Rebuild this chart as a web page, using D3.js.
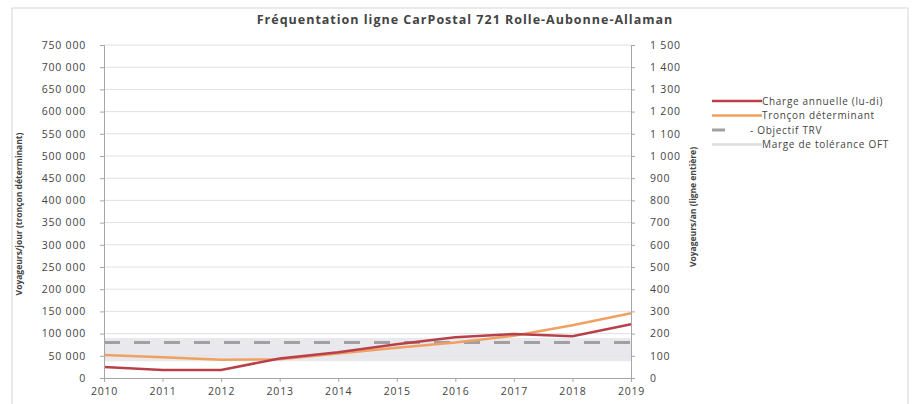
<!DOCTYPE html>
<html>
<head>
<meta charset="utf-8">
<script src="https://cdn.jsdelivr.net/npm/d3@7"></script>
<style>
  body { margin: 0; background: #fff; }
  text { font-family: "Open Sans", sans-serif; fill: #444; }
</style>
</head>
<body>
<div id="chart"></div>
<script>
var years = [2010, 2011, 2012, 2013, 2014, 2015, 2016, 2017, 2018, 2019];
var charge = [25000, 18000, 18000, 44000, 58000, 76000, 92000, 99000, 94000, 121000];
var troncon = [52000, 47000, 41000, 42000, 55000, 68000, 80000, 95000, 119000, 146000];
var objectif = [80000, 80000, 80000, 80000, 80000, 80000, 80000, 80000, 80000, 80000];
var margeBas = [38000, 38000, 38000, 38000, 38000, 38000, 38000, 38000, 38000, 38000];
var margeHaut = [90000, 90000, 90000, 90000, 90000, 90000, 90000, 90000, 90000, 90000];
var leftTicks = d3.range(0, 750001, 50000);
var rightTicks = d3.range(0, 1501, 100);
var legendLabels = ["Charge annuelle (lu-di)", "Tronçon déterminant", "Objectif TRV", "Marge de tolérance OFT"];

var width = 914, height = 404;
var margin = {left: 104, right: 283, top: 45, bottom: 26};

var svg = d3.select("#chart")
	.append("svg")
	.attr("width", width)
	.attr("height", height)
	;

// scanned frame
svg.append("rect")
	.attr("x", 12).attr("y", 8)
	.attr("width", 896).attr("height", 400)
	.attr("fill", "none")
	.attr("stroke", "#d6d6d6");

var x = d3.scaleLinear()
	.domain([2010, 2019])
	.range([margin.left, width - margin.right]);
var y = d3.scaleLinear()
	.domain([0, 750000])
	.range([height - margin.bottom, margin.top]);
var y2 = d3.scaleLinear()
	.domain([0, 1500])
	.range([height - margin.bottom, margin.top]);

var fmt = function(d) {
	return d3.format(",")(d).replace(/,/g, " ");
};

// grid
svg.append("g")
	.selectAll("line")
	.data(leftTicks.slice(1))
	.enter().append("line")
	.attr("x1", x(2010)).attr("x2", x(2019))
	.attr("y1", function(d) { return y(d); })
	.attr("y2", function(d) { return y(d); })
	.attr("stroke", "#e0e0e0")
	.attr("stroke-width", 1)
	;

// tolerance band
var band = d3.area()
	.x(function(d, i) { return x(years[i]); })
	.y0(function(d, i) { return y(margeBas[i]); })
	.y1(function(d) { return y(d); });
svg.append("path")
	.datum(margeHaut)
	.attr("d", band)
	.attr("fill", "#e4e4ea")
	.attr("opacity", 0.85);

var line = d3.line()
	.x(function(d, i) { return x(years[i]); })
	.y(function(d) { return y(d); });

svg.append("path")
	.datum(objectif)
	.attr("d", line)
	.attr("fill", "none")
	.attr("stroke", "#a0a0a0")
	.attr("stroke-width", 3)
	.attr("stroke-dasharray", "16,14");

svg.append("path")
	.datum(troncon)
	.attr("d", line)
	.attr("fill", "none")
	.attr("stroke", "#f0a060")
	.attr("stroke-width", 2.5);

svg.append("path")
	.datum(charge)
	.attr("d", line)
	.attr("fill", "none")
	.attr("stroke", "#b8404a")
	.attr("stroke-width", 2.5);

// axes
var axisLeft = d3.axisLeft(y).tickValues(leftTicks).tickFormat(fmt).tickSize(4).tickPadding(14);
var gl = svg.append("g")
	.attr("transform", "translate(" + x(2010) + ",0)")
	.call(axisLeft);
var axisRight = d3.axisRight(y2).tickValues(rightTicks).tickFormat(fmt).tickSize(4).tickPadding(15);
var gr = svg.append("g")
	.attr("transform", "translate(" + x(2019) + ",0)")
	.call(axisRight);
var axisBottom = d3.axisBottom(x).tickValues(years).tickFormat(d3.format("d")).tickSize(4).tickPadding(6);
var gb = svg.append("g")
	.attr("transform", "translate(0," + y(0) + ")")
	.call(axisBottom);

[gl, gr, gb].forEach(function(g) {
	g.selectAll("path, line").attr("stroke", "#a6a6a6");
	g.selectAll("text")
		.style("font-family", "Open Sans, sans-serif")
		.style("font-size", "10.5px")
		.style("letter-spacing", "0.8px")
		.attr("fill", "#555");
});

// title
svg.append("text")
	.attr("x", 465).attr("y", 24)
	.attr("text-anchor", "middle")
	.style("font-size", "12.5px")
	.style("font-weight", "bold")
	.style("letter-spacing", "1px")
	.attr("fill", "#333")
	.text("Fréquentation ligne CarPostal 721 Rolle-Aubonne-Allaman");

svg.append("text")
	.attr("transform", "translate(22,214) rotate(-90)")
	.attr("text-anchor", "middle")
	.style("font-size", "8.5px")
	.style("font-weight", "bold")
	.attr("fill", "#444")
	.text("Voyageurs/jour (tronçon déterminant)");

svg.append("text")
	.attr("transform", "translate(696,207) rotate(-90)")
	.attr("text-anchor", "middle")
	.style("font-size", "8.5px")
	.style("font-weight", "bold")
	.attr("fill", "#444")
	.text("Voyageurs/an (ligne entière)");

// legend
var legendColors = ["#b8404a", "#f0a060", "#a0a0a0", "#dcdce2"];
var legend = svg.append("g")
	.selectAll("g")
	.data(legendLabels)
	.enter().append("g")
	.attr("transform", function(d, i) {
		return "translate(712," + (101 + i * 14.5) + ")";
	});
legend.append("line")
	.attr("x1", 0)
	.attr("x2", function(d, i) { return i == 2 ? 13 : 50; })
	.attr("stroke", function(d, i) { return legendColors[i]; })
	.attr("stroke-width", function(d, i) { return i == 2 ? 3 : 2.5; });
legend.append("text")
	.attr("x", function(d, i) { return i == 2 ? 38 : 50; })
	.attr("dy", "0.35em")
	.style("font-size", "10px")
	.style("letter-spacing", "0.7px")
	.attr("fill", "#444")
	.text(function(d, i) { return i == 2 ? "- " + d : d; });
</script>
</body>
</html>
